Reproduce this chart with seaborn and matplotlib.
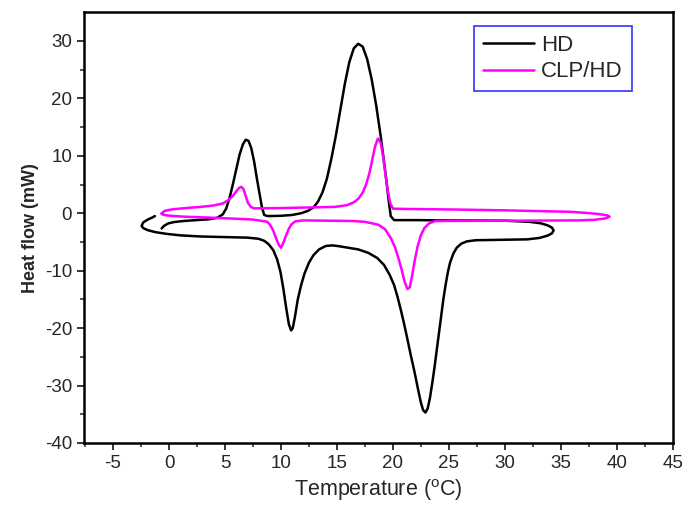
import numpy as np
import pandas as pd
import seaborn as sns
import matplotlib.pyplot as plt

# HD curve: cooling branch (upper) then heating branch (lower), one closed path
hd_temp = [-0.66, -0.45, -0.1, 0.4, 1.3, 2.5, 3.6, 4.3, 4.8, 5.1, 5.4, 5.7, 6.0, 6.3, 6.6, 6.85, 7.1,
           7.35, 7.6, 7.85, 8.1, 8.3, 8.5, 8.8,
           10.0, 11.0, 11.8, 12.4, 12.9, 13.3, 13.7, 14.1, 14.5, 14.9, 15.3, 15.7, 16.1, 16.5, 16.9, 17.3,
           17.7, 18.1, 18.5, 18.9, 19.3, 19.6, 19.8, 20.1, 22, 25, 30, 32.2, 33.2, 33.8, 34.2, 34.35, 34.2,
           33.8, 33.1, 32, 29, 27.4, 26.6, 26.1, 25.7, 25.4, 25.1, 24.9, 24.7, 24.5, 24.3, 24.1, 23.9,
           23.7, 23.5, 23.3, 23.1, 22.9, 22.7, 22.5, 22.3, 22.1, 21.9, 21.6, 21.3, 21.0, 20.7, 20.4,
           20.1, 19.7, 19.2, 18.6, 17.8, 16.9, 16.0, 15.2, 14.6, 14.0, 13.4, 12.9, 12.5, 12.1, 11.8,
           11.5, 11.25, 11.05, 10.9, 10.7, 10.45, 10.2, 9.95, 9.65, 9.3, 8.9, 8.5, 8.0, 7.0, 5, 2.8, 1.0, -0.2,
           -1.2, -1.9, -2.3, -2.45, -2.3, -1.9, -1.5, -1.26]
hd_flow = [-2.66, -2.2, -1.8, -1.55, -1.35, -1.2, -1.05, -0.8, -0.2, 0.8, 2.6, 5.0, 7.6, 10.2, 12.0, 12.8, 12.6,
           11.3, 9.0, 6.0, 3.2, 1.0, -0.3, -0.5,
           -0.45, -0.3, 0.0, 0.4, 1.0, 2.0, 3.6, 6.0, 9.5, 13.5, 18.0, 22.5, 26.3, 28.7, 29.5, 29.0,
           26.8, 23.3, 18.8, 13.5, 7.5, 2.5, -0.5, -1.2, -1.2, -1.25, -1.3, -1.5, -1.75, -2.1, -2.5, -3.0, -3.5,
           -3.9, -4.3, -4.55, -4.65, -4.7, -4.9, -5.3, -6.0, -7.0, -8.6, -10.3, -12.5, -15.0, -18.0, -21.0, -24.0,
           -27.0, -29.7, -32.2, -34.0, -34.7, -34.3, -33.0, -31.2, -29.3, -27.4, -24.8, -22.0, -19.3, -16.8, -14.5,
           -12.5, -10.7, -9.0, -7.8, -6.9, -6.3, -6.0, -5.75, -5.6, -5.7, -6.3, -7.3, -8.6, -10.5, -12.5,
           -15.0, -18.0, -20.0, -20.4, -19.3, -16.3, -13.0, -10.2, -8.0, -6.4, -5.4, -4.8, -4.45, -4.25, -4.15, -4.05, -3.85, -3.6,
           -3.3, -2.95, -2.6, -2.2, -1.6, -1.1, -0.75, -0.5]

# CLP/HD curve
clp_temp = [-0.66, -0.4, 0.2, 1.2, 2.8, 4.0, 4.8, 5.3, 5.7, 6.0, 6.25, 6.45, 6.65, 6.85, 7.05, 7.3, 7.6, 10,
            14.8, 15.9, 16.5, 16.9, 17.3, 17.6, 17.9, 18.15, 18.4, 18.65, 18.9, 19.15, 19.35, 19.55, 19.75,
            20.0, 21, 25.3, 30, 35.8, 37.3, 38.4, 39.1, 39.35, 39.0, 38.0, 36.5, 30, 23.8, 23.2, 22.8, 22.5,
            22.2, 21.95, 21.7, 21.5, 21.3, 21.05, 20.8, 20.5, 20.2, 19.8, 19.3, 18.7, 17.5, 16.3, 12, 11.3,
            10.95, 10.7, 10.45, 10.2, 10.0, 9.8, 9.55, 9.3, 9.05, 8.8, 7.5, 5.8, 3.5, 1.3, 0.2, -0.3, -0.6, -0.66]
clp_flow = [-0.05, 0.4, 0.65, 0.85, 1.1, 1.35, 1.7, 2.3, 3.0, 3.8, 4.4, 4.6, 4.2, 3.0, 1.8, 1.1, 0.85, 0.9,
            1.1, 1.4, 1.9, 2.5, 3.6, 5.0, 7.0, 9.3, 11.6, 13.0, 12.3, 9.5, 6.5, 3.8, 1.8,
            0.8, 0.75, 0.65, 0.5, 0.25, 0.05, -0.15, -0.35, -0.6, -0.9, -1.15, -1.25, -1.3, -1.35, -1.8, -2.6, -3.8,
            -5.8, -8.2, -11.0, -12.9, -13.2, -12.0, -10.0, -7.9, -6.0, -4.3, -2.8, -2.0, -1.5, -1.35, -1.25, -1.4,
            -1.9, -2.7, -3.9, -5.2, -6.0, -5.5, -4.3, -3.0, -2.1, -1.5, -1.1, -0.95, -0.75, -0.6, -0.45, -0.35, -0.2, -0.05]

df = pd.concat([
    pd.DataFrame({"T": hd_temp, "Q": hd_flow, "sample": "HD"}),
    pd.DataFrame({"T": clp_temp, "Q": clp_flow, "sample": "CLP/HD"}),
])

sns.set_style("ticks")
plt.rcParams['font.family'] = ['Liberation Sans', 'DejaVu Sans']
plt.rcParams['mathtext.fontset'] = 'custom'
plt.rcParams['mathtext.rm'] = 'Liberation Sans'
plt.rcParams['axes.unicode_minus'] = False

fig = plt.figure(figsize=(6.88, 5.08), dpi=100)
ax = fig.add_axes([0.122, 0.128, 0.856, 0.848])

# each sample is one closed path, drawn in recorded order
for name, col in [("HD", "black"), ("CLP/HD", "#ff00ff")]:
    sns.lineplot(data=df[df["sample"] == name], x="T", y="Q", sort=False, estimator=None,
                 color=col, linewidth=1.8, ax=ax, label=name)

ax.set_xlim(-7.6, 45)
ax.set_ylim(-40, 35)
ax.set_xticks(np.arange(-5, 46, 5))
ax.set_xticks(np.arange(-7.5, 45.1, 2.5), minor=True)
ax.set_yticks(np.arange(-40, 31, 10))
ax.set_yticks(np.arange(-40, 35, 5), minor=True)
ax.tick_params(which="major", direction="out", length=5, width=1.3, labelsize=13.5)
ax.tick_params(which="minor", direction="out", length=3, width=1.1)
for s in ax.spines.values():
    s.set_linewidth(1.8)
    s.set_color("black")

ax.set_xlabel(r"Temperature ($\mathregular{^o}$C)", fontsize=15.5)
ax.set_ylabel("Heat flow (mW)", fontsize=13, fontweight="bold")

leg = ax.legend(loc="upper right", bbox_to_anchor=(0.93, 0.968), fontsize=16, frameon=True,
                fancybox=False, handlelength=2.3, handletextpad=0.3, borderpad=0.4,
                labelspacing=0.25, borderaxespad=0)
leg.get_frame().set_edgecolor("blue")
leg.get_frame().set_linewidth(1.2)

fig.savefig("out.png", dpi=100)
